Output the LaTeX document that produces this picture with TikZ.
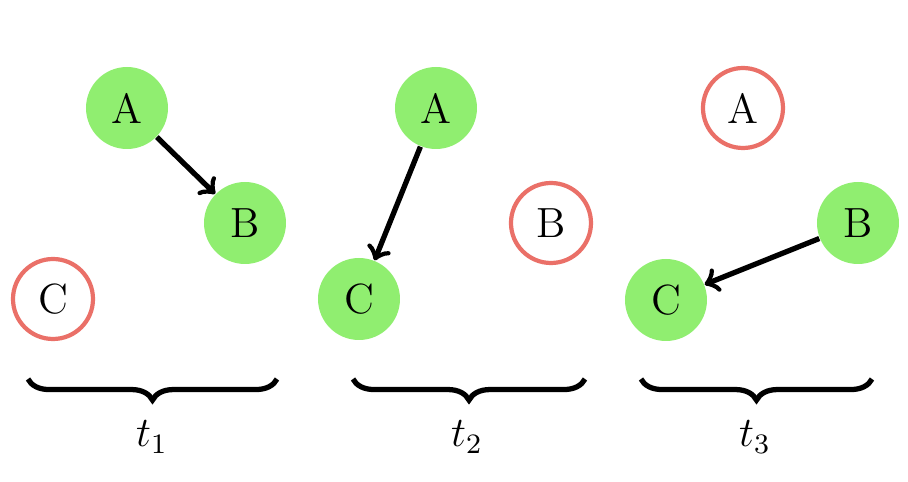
\documentclass[tikz,border=0pt]{standalone}
\usetikzlibrary{decorations.pathreplacing}
\definecolor{firedgreen}{RGB}{144,238,112}
\definecolor{silentred}{RGB}{234,112,104}
\begin{document}
\begin{tikzpicture}[
    fired/.style={fill=firedgreen, minimum size=.82cm},
    silent/.style={draw=silentred, line width=1.2pt, minimum size=.80cm},
    timebrace/.style={decorate, decoration={brace, mirror, amplitude=6pt}, line width=1.5pt}
  ]
  \useasboundingbox (0,0) rectangle (9.08,-4.82);

      \begin{scope}[every node/.style={circle, inner sep=0pt, font=\large}]
        % t_1
        \node[fired]  (A1) at (1.27,-1.08) {A};
        \node[fired]  (B1) at (2.45,-2.23) {B};
        \node[silent] (C1) at (0.53,-2.99) {C};
        % t_2
        \node[fired]  (A2) at (4.36,-1.08) {A};
        \node[silent] (B2) at (5.51,-2.23) {B};
        \node[fired]  (C2) at (3.59,-2.99) {C};
        % t_3
        \node[silent] (A3) at (7.43,-1.08) {A};
        \node[fired]  (B3) at (8.58,-2.23) {B};
        \node[fired]  (C3) at (6.66,-3.00) {C};
      \end{scope}

      \begin{scope}[every edge/.style={draw, ->, line width=1.5pt}]
        \path (A1) edge (B1);
        \path (A2) edge (C2);
        \path (B3) edge (C3);
      \end{scope}

      \coordinate (s1) at (0.28,-3.79);
      \coordinate (e1) at (2.77,-3.79);
      \coordinate (s2) at (3.53,-3.79);
      \coordinate (e2) at (5.85,-3.79);
      \coordinate (s3) at (6.41,-3.79);
      \coordinate (e3) at (8.72,-3.79);

      \draw[timebrace] (s1) -- (e1);
      \draw[timebrace] (s2) -- (e2);
      \draw[timebrace] (s3) -- (e3);

      \begin{scope}[every node/.style={font=\large}]
        \node (t1) at (1.52,-4.37) {$t_1$};
        \node (t2) at (4.67,-4.37) {$t_2$};
        \node (t3) at (7.55,-4.37) {$t_3$};
      \end{scope}

    \end{tikzpicture}
\end{document}
